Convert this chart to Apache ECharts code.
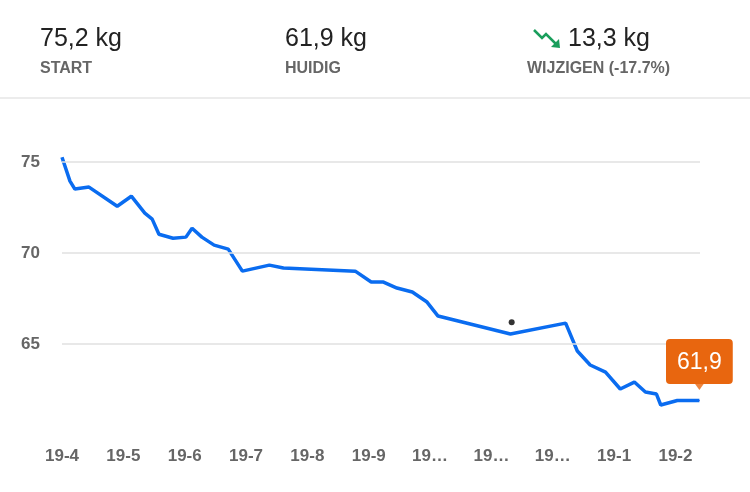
<!DOCTYPE html>
<html><head><meta charset="utf-8">
<script src="https://cdn.jsdelivr.net/npm/echarts@6/dist/echarts.min.js"></script>
<style>html,body{margin:0;padding:0;background:#fff}#c{width:750px;height:492px}</style>
</head><body><div id="c"></div>
<script>
const monthPos = [0,0.13,0.21,0.44,0.90,1.13,1.35,1.47,1.58,1.81,2.02,2.12,2.28,2.48,2.71,2.94,3.38,3.61,4.78,5.04,5.24,5.46,5.71,5.95,6.13,7.31,8.21,8.40,8.61,8.86,9.10,9.33,9.51,9.69,9.76,10.03,10.39];
const weights = [75.27,73.96,73.52,73.63,72.58,73.13,72.20,71.87,71.04,70.82,70.88,71.37,70.88,70.44,70.22,69.01,69.34,69.18,69.01,68.41,68.41,68.08,67.86,67.31,66.54,65.55,66.15,64.62,63.85,63.46,62.53,62.91,62.36,62.25,61.65,61.9,61.9];
const tickLabels = ['19-4','19-5','19-6','19-7','19-8','19-9','19…','19…','19…','19-1','19-2'];
const yTicks = [65,70,75];
const extraPoint = [7.33,66.2];
const stats = [['75,2 kg','START'],['61,9 kg','HUIDIG'],['13,3 kg','WIJZIGEN (-17.7%)']];

const font = '"Liberation Sans", Arial, sans-serif';
const c = echarts.init(document.getElementById('c'));
const data = monthPos.map((m,i)=>[m,weights[i]]);
const xs=[40,285,568];
const lx=[40,285,527];
const graphic=[];
stats.forEach((s,i)=>{
  graphic.push({type:'text',left:xs[i],top:27,style:{text:s[0],font:'25px '+font,fill:'#222'}});
  graphic.push({type:'text',left:lx[i],top:61,style:{text:s[1],font:'bold 16px '+font,fill:'#666'}});
});
graphic.push({type:'polyline',shape:{points:[[534,30],[542,38],[546,34],[556,44]]},style:{stroke:'#1a9e5c',lineWidth:2.5,fill:null}});
graphic.push({type:'polygon',shape:{points:[[560,48],[551,47],[559,39]]},style:{fill:'#1a9e5c'}});
graphic.push({type:'rect',shape:{x:0,y:97,width:750,height:2},style:{fill:'#ececec'}});
c.setOption({
  animation:false,
  graphic,
  grid:{left:62,right:50,top:144,bottom:57},
  xAxis:{type:'value',min:0,max:10.4,interval:1,
    axisLine:{show:false},axisTick:{show:false},splitLine:{show:false},
    axisLabel:{showMaxLabel:false,margin:13,color:'#666',fontWeight:'bold',fontSize:17,fontFamily:font,
      formatter:v=>tickLabels[Math.round(v)]||''}},
  yAxis:{type:'value',min:60,max:76,interval:5,
    axisLine:{show:false},axisTick:{show:false},splitLine:{show:false},
    axisLabel:{margin:22,color:'#666',fontWeight:'bold',fontSize:17,fontFamily:font,
      formatter:v=>yTicks.includes(v)?String(v):''}},
  series:[
    {type:'line',data,showSymbol:false,lineStyle:{color:'#0a6cf0',width:3.5},
     markLine:{silent:true,symbol:'none',label:{show:false},lineStyle:{color:'#e0e0e0',width:1.5,type:'solid'},
       data:yTicks.map(v=>({yAxis:v}))},
     markPoint:{symbol:'rect',symbolSize:1,data:[{coord:data[data.length-1],
       label:{show:true,position:'top',distance:16,formatter:'61,9',color:'#fff',fontSize:23,fontFamily:font,
         backgroundColor:'#e8660f',borderRadius:4,padding:[12,11,10,11]}}]}},
    {type:'scatter',data:[extraPoint],symbolSize:6,itemStyle:{color:'#000'}},
    {type:'scatter',data:[data[data.length-1]],symbol:'triangle',symbolRotate:180,symbolSize:[10,7],symbolOffset:[0,-14],z:5,itemStyle:{color:'#e8660f'}}
  ]
});
</script></body></html>
